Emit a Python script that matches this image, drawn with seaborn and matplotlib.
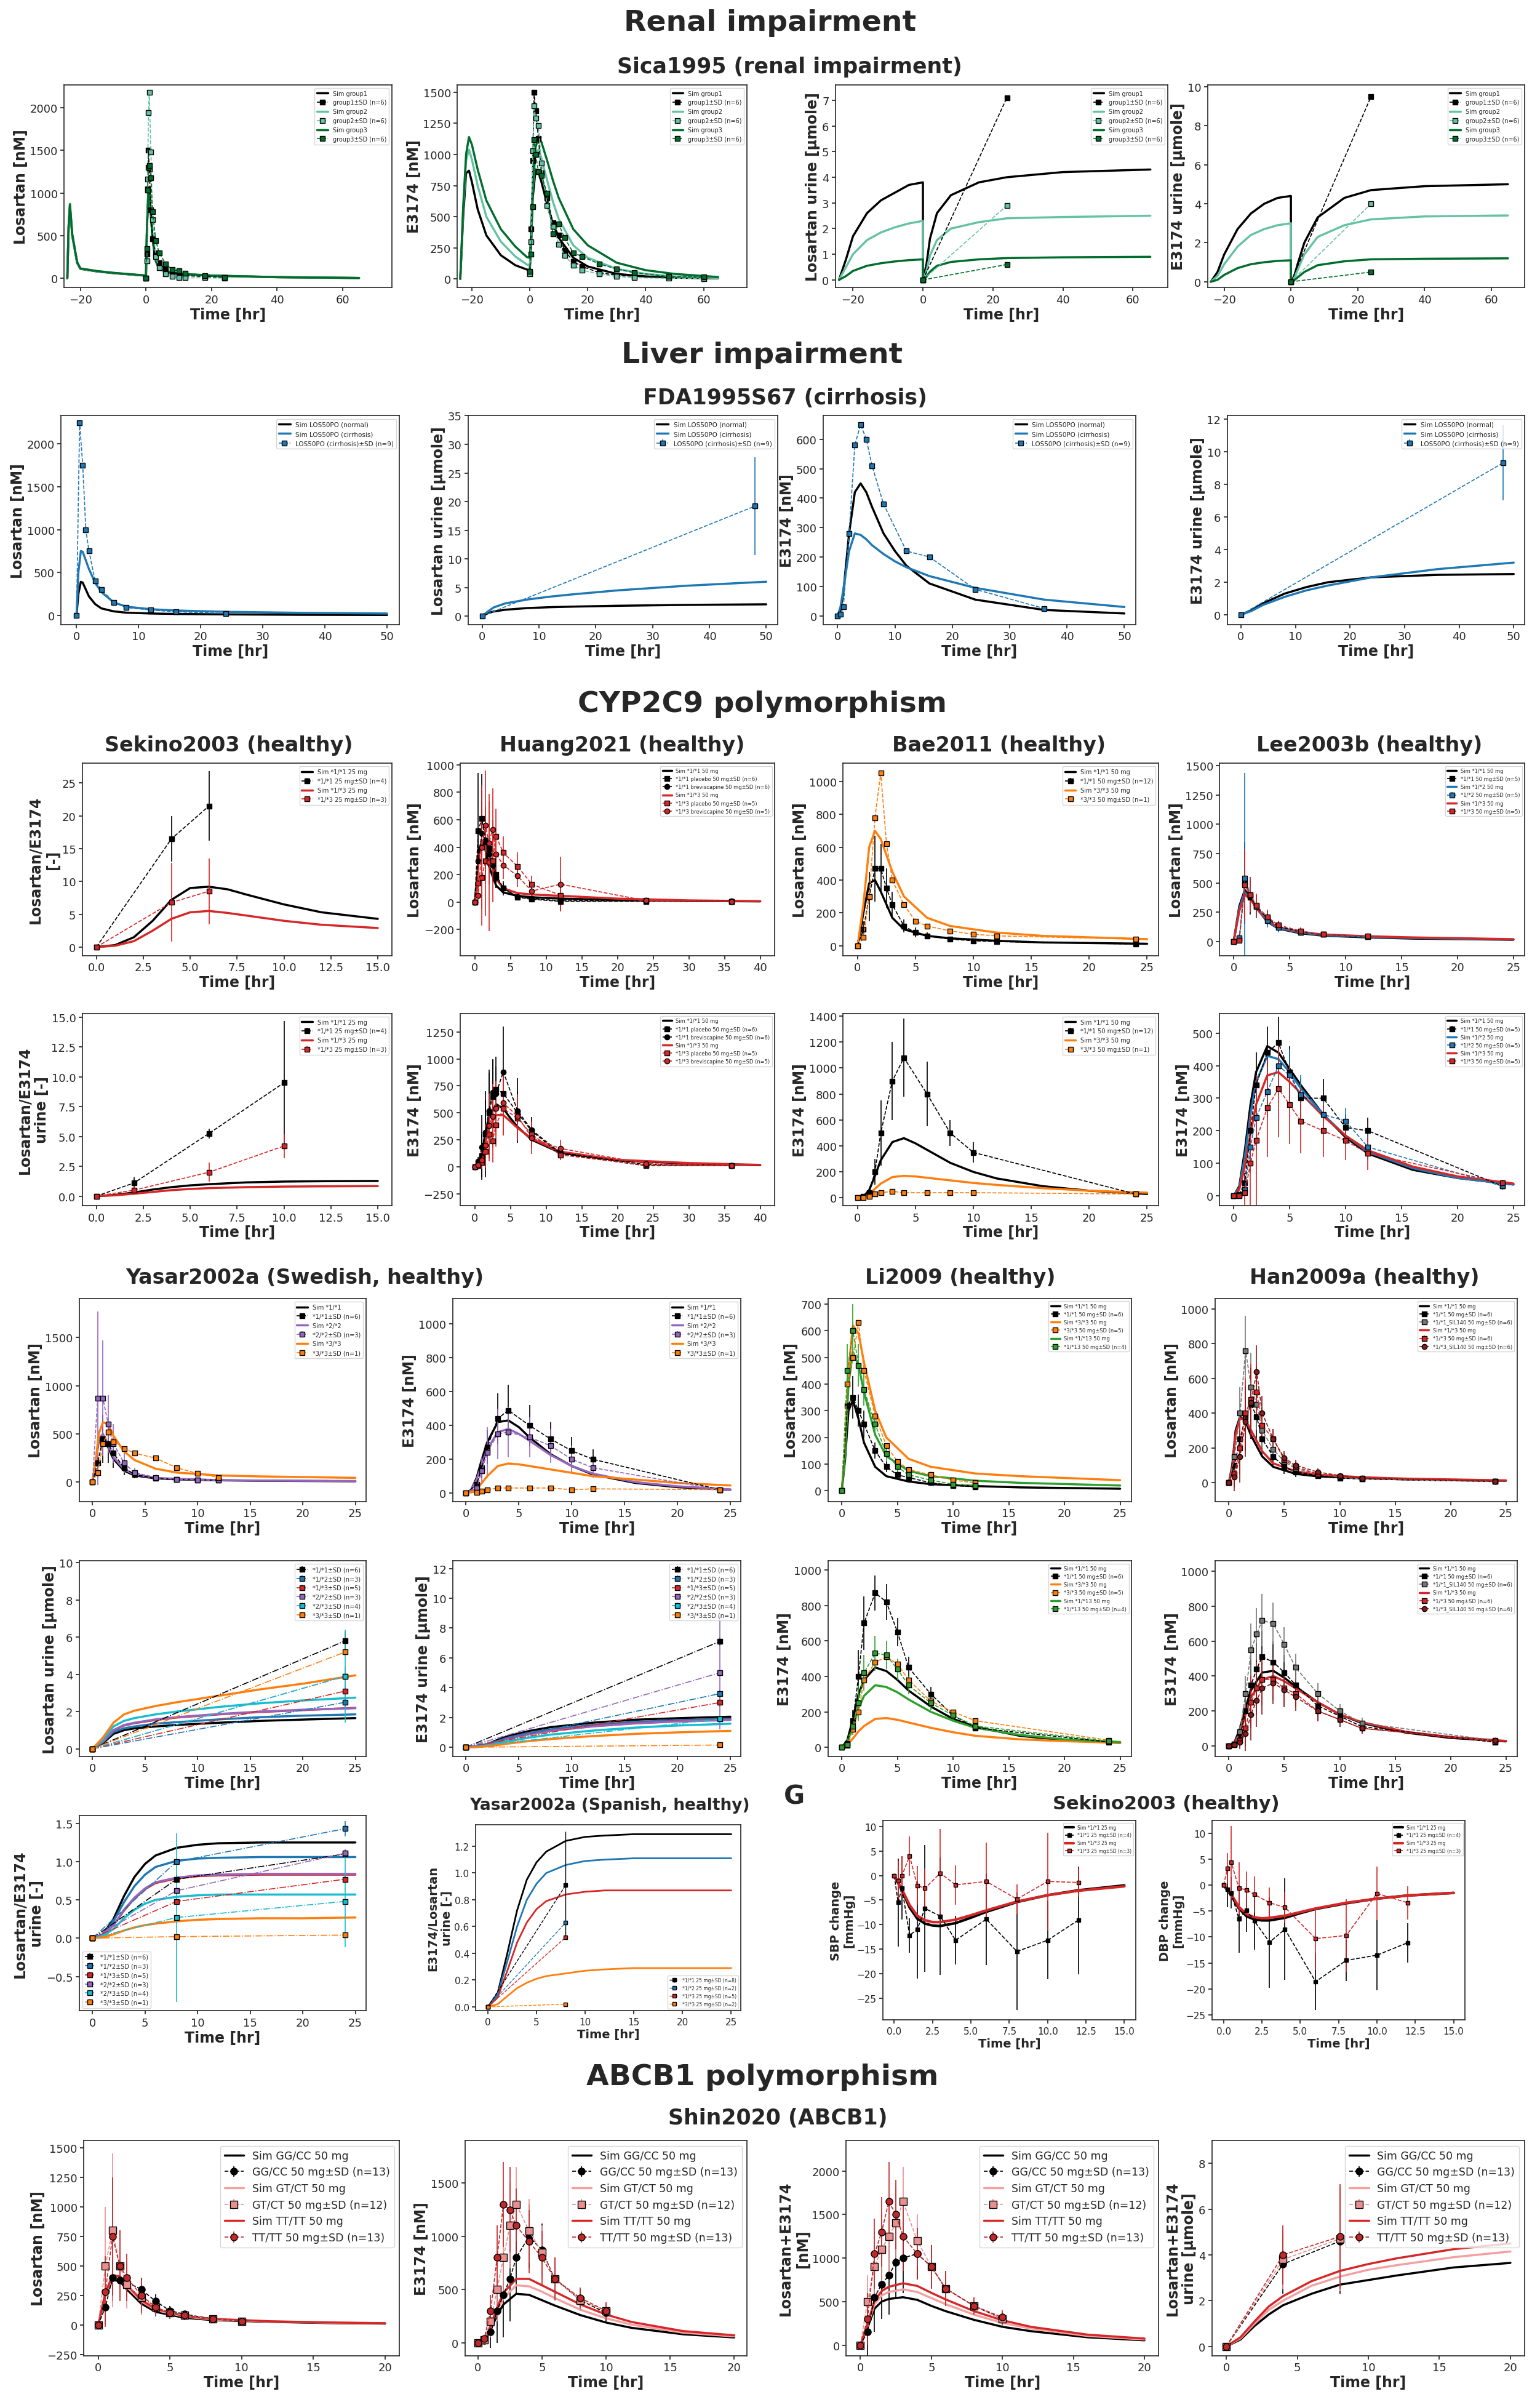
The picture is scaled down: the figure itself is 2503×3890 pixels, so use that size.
import numpy as np
import pandas as pd
import seaborn as sns
import matplotlib
matplotlib.use("Agg")
import matplotlib.pyplot as plt
from matplotlib.lines import Line2D

sns.set_theme(style="ticks")
plt.rcParams['font.family'] = ['DejaVu Sans']

# ---------------- colours ----------------
BLK = 'black'; BLU = '#1f77b4'; RED = '#d62728'; PUR = '#9467bd'; CYA = '#17becf'; ORA = '#ff7f0e'; GRN = '#2ca02c'
G2 = '#66c2a4'; G3 = '#006d2c'; LIVB = '#1f78b4'; PNK = '#f4a0a0'

# ================= DATA =================
# --- Sica1995 (renal) ---
sica_sim_t = [-24, -23.6, -23.2, -22.5, -21, -20, -15, -10, -5, 0, 0.3, 0.7, 1, 1.5, 2, 3, 4, 6, 10, 20, 40, 65]
sica_los_sim_g1 = [0, 600, 850, 500, 180, 110, 80, 60, 45, 30, 600, 950, 1000, 750, 450, 200, 110, 70, 50, 30, 12, 3]
sica_los_sim_g2 = [0, 610, 860, 510, 185, 112, 82, 62, 46, 31, 610, 960, 1010, 760, 460, 205, 112, 72, 52, 31, 13, 3]
sica_los_sim_g3 = [0, 620, 870, 520, 190, 115, 85, 64, 48, 32, 620, 970, 1020, 770, 470, 210, 115, 74, 54, 32, 13, 3]
sica_t = [0, 0.25, 0.5, 0.75, 1, 1.5, 2, 3, 4, 6, 8, 10, 12, 18, 24]
sica_los_g1 = [0, 280, 1050, 1500, 1280, 800, 460, 300, 180, 100, 70, 50, 30, 20, 10]
sica_los_g2 = [0, 200, 1160, 1940, 2180, 1480, 690, 250, 120, 50, 20, 10, 5, 5, 2]
sica_los_g3 = [0, 350, 1030, 1300, 1320, 1180, 780, 440, 300, 170, 100, 90, 60, 30, 10]
sica_E_sim_t = [-24, -23, -22, -21, -20, -18, -15, -10, -5, -1, 0, 0.5, 1, 2, 3, 4, 6, 8, 10, 15, 20, 30, 40, 50, 65]
sica_E_sim_g1 = [0, 500, 850, 870, 780, 560, 350, 190, 110, 75, 70, 300, 650, 880, 860, 780, 600, 440, 330, 170, 100, 40, 20, 10, 5]
sica_E_sim_g2 = [0, 550, 950, 1040, 960, 750, 500, 300, 180, 115, 110, 350, 720, 1000, 1040, 970, 790, 620, 480, 270, 170, 80, 40, 20, 8]
sica_E_sim_g3 = [0, 580, 1000, 1140, 1080, 880, 630, 400, 260, 175, 170, 380, 760, 1060, 1130, 1100, 950, 790, 650, 400, 270, 130, 70, 40, 15]
sica_Et = [0, 0.5, 1, 1.5, 2, 3, 4, 6, 8, 10, 12, 15, 18, 24, 30, 36, 48, 60]
sica_E_g1 = [50, 400, 950, 1500, 1350, 1130, 850, 650, 450, 350, 230, 140, 100, 50, 30, 20, 10, 5]
sica_E_g2 = [40, 300, 1030, 1390, 1290, 1230, 930, 590, 420, 280, 190, 110, 70, 40, 20, 10, 5, 3]
sica_E_g3 = [60, 200, 580, 1120, 1000, 860, 830, 690, 360, 440, 330, 210, 180, 120, 80, 50, 20, 15]
sica_u_sim_t = [-24, -22, -20, -16, -12, -8, -4, -0.01, 0, 1, 2, 4, 8, 16, 24, 40, 65]
sica_ulos_sim_g1 = [0, 0.8, 1.7, 2.6, 3.1, 3.4, 3.7, 3.8, 0, 0.6, 1.6, 2.6, 3.3, 3.8, 4.0, 4.2, 4.3]
sica_ulos_sim_g2 = [0, 0.5, 1.0, 1.55, 1.85, 2.05, 2.2, 2.3, 0, 0.35, 0.95, 1.55, 2.0, 2.25, 2.4, 2.45, 2.5]
sica_ulos_sim_g3 = [0, 0.15, 0.35, 0.55, 0.65, 0.72, 0.77, 0.8, 0, 0.12, 0.32, 0.55, 0.7, 0.8, 0.85, 0.88, 0.9]
sica_uE_sim_g1 = [0, 0.5, 1.4, 2.7, 3.5, 4.0, 4.3, 4.4, 0, 0.3, 0.9, 2.0, 3.3, 4.3, 4.7, 4.9, 5.0]
sica_uE_sim_g2 = [0, 0.3, 0.9, 1.8, 2.4, 2.7, 2.9, 3.0, 0, 0.2, 0.6, 1.4, 2.3, 2.9, 3.2, 3.35, 3.4]
sica_uE_sim_g3 = [0, 0.1, 0.35, 0.7, 0.9, 1.0, 1.07, 1.1, 0, 0.08, 0.22, 0.5, 0.85, 1.05, 1.15, 1.18, 1.2]
sica_ut = [0, 24]
sica_ulos_g1 = [0, 7.1]; sica_ulos_g2 = [0, 2.9]; sica_ulos_g3 = [0, 0.6]
sica_uE_g1 = [0, 9.5]; sica_uE_g2 = [0, 4.0]; sica_uE_g3 = [0, 0.5]

# --- FDA1995S67 (cirrhosis) ---
fda_sim_t = [0, 0.3, 0.7, 1, 1.5, 2, 3, 4, 6, 8, 12, 16, 24, 36, 50]
fda_los_norm = [0, 250, 390, 380, 300, 220, 130, 80, 45, 30, 20, 15, 10, 5, 3]
fda_los_cirr = [0, 500, 750, 740, 640, 540, 380, 270, 150, 100, 70, 55, 40, 28, 20]
fda_t = [0, 0.5, 1, 1.5, 2, 3, 4, 6, 8, 12, 16, 24]
fda_los_data = [0, 2250, 1750, 1000, 750, 400, 300, 150, 90, 60, 40, 20]
fda_u_sim_t = [0, 1, 2, 4, 8, 12, 16, 24, 36, 50]
fda_ulos_norm = [0, 0.5, 0.8, 1.1, 1.4, 1.55, 1.65, 1.8, 1.95, 2.05]
fda_ulos_cirr = [0, 0.8, 1.5, 2.2, 2.9, 3.4, 3.8, 4.5, 5.3, 6.0]
fda_ut = [0, 48]
fda_ulos_data = [0, 19.2]; fda_ulos_sd = [0, 8.5]
fda_E_sim_t = [0, 0.5, 1, 2, 3, 4, 5, 6, 8, 10, 12, 16, 24, 36, 50]
fda_E_norm = [0, 20, 80, 280, 420, 450, 420, 370, 280, 220, 170, 110, 55, 20, 8]
fda_E_cirr = [0, 30, 90, 220, 280, 275, 260, 240, 210, 185, 165, 135, 95, 55, 30]
fda_Et = [0, 0.5, 1, 2, 3, 4, 5, 6, 8, 12, 16, 24, 36]
fda_E_data = [0, 5, 30, 280, 580, 650, 600, 510, 380, 220, 200, 90, 25]
fda_uE_sim_t = [0, 2, 4, 8, 12, 16, 24, 36, 50]
fda_uE_norm = [0, 0.3, 0.7, 1.3, 1.7, 2.0, 2.3, 2.45, 2.5]
fda_uE_cirr = [0, 0.25, 0.6, 1.1, 1.5, 1.8, 2.3, 2.8, 3.2]
fda_uE_data = [0, 9.3]; fda_uE_sd = [0, 2.3]

# --- Sekino2003 ---
sek_sim_t = [0, 1, 2, 3, 4, 5, 6, 7, 8, 10, 12, 15]
sek_ratio_11 = [0, 0.3, 1.5, 4, 7.2, 9.0, 9.2, 8.8, 8.0, 6.5, 5.3, 4.3]
sek_ratio_13 = [0, 0.2, 0.9, 2.5, 4.3, 5.3, 5.5, 5.2, 4.8, 4.0, 3.4, 2.9]
sek_t = [0, 4, 6]
sek_ratio_d11 = [0, 16.5, 21.5]; sek_ratio_sd11 = [0, 3.5, 5.3]
sek_ratio_d13 = [0, 6.8, 8.5]; sek_ratio_sd13 = [0, 6, 5]
sek_u_sim_t = [0, 1, 2, 3, 4, 5, 6, 8, 10, 12, 15]
sek_uratio_11 = [0, 0.1, 0.3, 0.55, 0.75, 0.9, 1.0, 1.15, 1.22, 1.25, 1.27]
sek_uratio_13 = [0, 0.07, 0.2, 0.35, 0.5, 0.6, 0.67, 0.75, 0.8, 0.82, 0.84]
sek_ut = [0, 2, 6, 10]
sek_uratio_d11 = [0, 1.1, 5.25, 9.5]; sek_uratio_sd11 = [0, 0.5, 0.4, 5.2]
sek_uratio_d13 = [0, 0.5, 2.0, 4.2]; sek_uratio_sd13 = [0, 0.3, 0.8, 1.0]
bp_sim_t = [0, 0.5, 1, 1.5, 2, 2.5, 3, 4, 5, 6, 8, 10, 12, 15]
sbp_sim_11 = [0, -3, -6.5, -8.8, -9.8, -10.2, -10.3, -9.7, -8.6, -7.4, -5.4, -4, -3, -2]
sbp_sim_13 = [0, -2.8, -6, -8.2, -9.1, -9.5, -9.5, -9, -8.1, -7.1, -5.3, -4, -3.1, -2.2]
bp_t = [0, 0.25, 0.5, 1, 1.5, 2, 3, 4, 6, 8, 10, 12]
sbp_d11 = [0, -5.5, -2.5, -12.2, -11, -6.7, -8.3, -13.2, -8.9, -15.5, -13.2, -9.1]
sbp_sd11 = [0, 9, 6.5, 3.5, 10, 13, 12, 5, 9.4, 12, 8, 11]
sbp_d13 = [0, -1, 0, 4, -2, -2.6, 0.5, -1.9, -1.2, -4.8, -1.2, -1.4]
sbp_sd13 = [0, 4, 4, 4, 4, 4, 9, 4, 8, 3, 10, 3]
dbp_sim_11 = [0, -2, -4.5, -6, -6.6, -6.8, -6.8, -6.3, -5.4, -4.6, -3.5, -2.6, -2, -1.5]
dbp_sim_13 = [0, -1.8, -4.2, -5.6, -6.2, -6.4, -6.3, -5.9, -5.2, -4.5, -3.4, -2.6, -2, -1.5]
dbp_d11 = [0, -0.8, -1.5, -6.5, -4.8, -6.9, -11, -8.5, -18.6, -14.5, -13.5, -11.1]
dbp_sd11 = [0, 3.5, 3, 6.5, 4.2, 5.5, 8.8, 9.8, 5.5, 4, 6.8, 3.8]
dbp_d13 = [0, 3.2, 4.4, -0.6, -0.9, -1.8, -3.4, -4.3, -10.3, -9.7, -1.6, -3.4]
dbp_sd13 = [0, 3, 7, 5, 3.5, 3.5, 3, 3, 6, 7, 5.2, 3.2]

# --- Huang2021 ---
hu_sim_t = [0, 0.3, 0.6, 1, 1.5, 2, 3, 4, 6, 8, 12, 20, 30, 40]
hu_los_11 = [0, 150, 380, 440, 380, 260, 120, 70, 45, 35, 25, 15, 8, 5]
hu_los_13 = [0, 120, 330, 430, 420, 330, 170, 100, 65, 55, 45, 25, 12, 6]
hu_t = [0, 0.5, 1, 1.5, 2, 2.5, 3, 4, 6, 8, 12, 24, 36]
hu_los_11p = [0, 520, 610, 440, 390, 300, 200, 100, 35, 20, 5, 5, 5]
hu_los_11p_sd = [0, 420, 320, 150, 150, 150, 100, 50, 20, 15, 10, 5, 5]
hu_los_11b = [0, 300, 500, 450, 350, 270, 180, 100, 40, 25, 10, 8, 6]
hu_los_11b_sd = [0, 200, 250, 200, 150, 100, 80, 40, 20, 15, 10, 5, 5]
hu_los_13p = [0, 140, 180, 300, 290, 300, 480, 360, 260, 130, 50, 10, 5]
hu_los_13p_sd = [0, 100, 350, 400, 500, 300, 200, 120, 100, 60, 120, 10, 5]
hu_los_13b = [0, 50, 400, 560, 430, 530, 350, 270, 190, 80, 130, 10, 5]
hu_los_13b_sd = [0, 40, 450, 400, 300, 300, 150, 100, 80, 50, 200, 10, 5]
hu_E_sim_t = [0, 0.5, 1, 1.5, 2, 3, 4, 5, 6, 8, 12, 20, 30, 40]
hu_E_11 = [0, 30, 130, 300, 450, 580, 540, 450, 370, 250, 130, 60, 30, 15]
hu_E_13 = [0, 20, 100, 230, 360, 480, 480, 420, 360, 260, 140, 65, 35, 18]
hu_E_11p = [0, 20, 100, 300, 500, 650, 720, 680, 500, 330, 120, 10, 10]
hu_E_11p_sd = [0, 30, 200, 400, 400, 350, 300, 200, 200, 100, 40, 10, 10]
hu_E_11b = [0, 50, 180, 320, 520, 690, 680, 880, 520, 340, 130, 20, 10]
hu_E_11b_sd = [0, 40, 300, 300, 350, 300, 250, 420, 300, 120, 50, 10, 10]
hu_E_13p = [0, 10, 40, 140, 300, 240, 390, 540, 450, 300, 110, 15, 10]
hu_E_13p_sd = [0, 10, 60, 150, 250, 200, 200, 250, 200, 120, 50, 10, 10]
hu_E_13b = [0, 15, 60, 200, 380, 470, 540, 590, 470, 270, 170, 30, 10]
hu_E_13b_sd = [0, 15, 80, 200, 300, 300, 250, 300, 200, 150, 80, 10, 10]

# --- Bae2011 ---
bae_sim_t = [0, 0.5, 1, 1.5, 2, 3, 4, 6, 8, 12, 16, 25]
bae_los_11 = [0, 200, 380, 400, 330, 170, 100, 60, 45, 30, 20, 12]
bae_los_33 = [0, 250, 600, 700, 650, 450, 300, 170, 120, 80, 60, 40]
bae_t = [0, 0.5, 1, 1.5, 2, 2.5, 3, 4, 5, 6, 8, 10, 12, 24]
bae_los_d11 = [0, 100, 300, 470, 470, 350, 250, 120, 80, 60, 40, 30, 25, 10]
bae_los_d11_sd = [0, 50, 150, 200, 150, 120, 80, 40, 30, 20, 15, 10, 10, 5]
bae_los_d33 = [0, 50, 300, 780, 1050, 620, 400, 250, 150, 120, 90, 70, 60, 40]
bae_E_sim_t = [0, 0.5, 1, 1.5, 2, 3, 4, 5, 6, 8, 10, 12, 16, 20, 25]
bae_E_11 = [0, 10, 60, 170, 290, 430, 460, 420, 370, 270, 200, 150, 90, 55, 30]
bae_E_33 = [0, 5, 25, 70, 110, 160, 170, 165, 155, 135, 115, 100, 75, 55, 40]
bae_Et = [0, 0.5, 1, 1.5, 2, 3, 4, 6, 8, 10, 24]
bae_E_d11 = [0, 10, 40, 200, 500, 900, 1080, 800, 500, 350, 30]
bae_E_d11_sd = [0, 5, 20, 100, 250, 300, 300, 250, 100, 80, 10]
bae_E_d33 = [0, 0, 10, 30, 40, 50, 40, 40, 40, 40, 30]

# --- Lee2003b ---
lee_sim_t = [0, 0.5, 1, 1.5, 2, 3, 4, 6, 8, 12, 16, 25]
lee_los_11 = [0, 300, 440, 380, 290, 170, 110, 70, 50, 35, 25, 15]
lee_los_12 = [0, 280, 420, 370, 290, 175, 115, 75, 55, 40, 30, 18]
lee_los_13 = [0, 260, 400, 360, 290, 180, 120, 80, 60, 45, 35, 20]
lee_t = [0, 0.5, 1, 1.5, 2, 3, 4, 6, 8, 12]
lee_los_d11 = [0, 20, 500, 380, 300, 200, 130, 80, 60, 40]
lee_los_d11_sd = [0, 20, 350, 150, 100, 60, 40, 30, 20, 15]
lee_los_d12 = [0, 30, 540, 400, 300, 180, 120, 80, 60, 40]
lee_los_d12_sd = [0, 30, 900, 150, 100, 60, 40, 30, 20, 15]
lee_los_d13 = [0, 10, 480, 400, 310, 210, 140, 90, 60, 45]
lee_los_d13_sd = [0, 10, 300, 150, 100, 60, 40, 30, 20, 15]
lee_E_sim_t = [0, 0.5, 1, 1.5, 2, 3, 4, 5, 6, 8, 10, 12, 16, 20, 25]
lee_E_11 = [0, 30, 140, 280, 380, 460, 440, 390, 340, 250, 180, 130, 80, 55, 35]
lee_E_12 = [0, 25, 120, 250, 350, 430, 420, 380, 330, 250, 185, 135, 85, 55, 35]
lee_E_13 = [0, 20, 90, 190, 280, 370, 380, 350, 315, 245, 185, 140, 90, 60, 38]
lee_Et = [0, 0.5, 1, 1.5, 2, 3, 4, 5, 6, 8, 10, 12, 24]
lee_E_d11 = [0, 5, 40, 200, 340, 440, 470, 380, 300, 300, 210, 200, 30]
lee_E_d11_sd = [0, 5, 30, 80, 100, 80, 80, 80, 60, 60, 40, 40, 10]
lee_E_d12 = [0, 5, 20, 150, 240, 320, 400, 370, 310, 250, 230, 150, 30]
lee_E_d12_sd = [0, 5, 20, 80, 100, 80, 80, 80, 60, 60, 40, 40, 10]
lee_E_d13 = [0, 0, 10, 100, 170, 270, 330, 280, 230, 200, 170, 130, 40]
lee_E_d13_sd = [0, 0, 50, 150, 200, 150, 150, 120, 100, 80, 60, 50, 10]

# --- Yasar2002a (Swedish) ---
ya_sim_t = [0, 0.3, 0.6, 1, 1.5, 2, 3, 4, 6, 8, 12, 16, 25]
ya_los_11 = [0, 200, 430, 480, 360, 240, 120, 70, 40, 30, 20, 15, 10]
ya_los_22 = [0, 210, 450, 500, 390, 260, 135, 80, 45, 35, 22, 17, 12]
ya_los_33 = [0, 200, 500, 620, 600, 480, 320, 230, 140, 100, 70, 60, 45]
ya_t = [0, 0.5, 1, 1.5, 2, 3, 4, 6, 8, 10, 12]
ya_los_d11 = [0, 200, 450, 400, 300, 150, 80, 40, 30, 25, 20]
ya_los_d11_sd = [0, 150, 250, 200, 150, 80, 40, 20, 15, 10, 10]
ya_los_d22 = [0, 870, 870, 600, 400, 200, 100, 50, 30, 25, 20]
ya_los_d22_sd = [0, 900, 600, 300, 200, 100, 50, 20, 15, 10, 10]
ya_los_d33 = [0, 100, 400, 520, 420, 350, 300, 250, 150, 90, 50]
ya_E_sim_t = [0, 0.5, 1, 1.5, 2, 3, 4, 5, 6, 8, 10, 12, 16, 20, 25]
ya_E_11 = [0, 20, 90, 200, 300, 420, 430, 390, 330, 230, 160, 110, 60, 35, 20]
ya_E_22 = [0, 18, 80, 170, 260, 360, 380, 350, 310, 225, 160, 115, 65, 40, 22]
ya_E_33 = [0, 5, 25, 60, 100, 160, 175, 170, 160, 140, 120, 100, 80, 60, 45]
ya_Et = [0, 1, 1.5, 2, 3, 4, 6, 8, 10, 12, 24]
ya_E_d11 = [0, 50, 150, 270, 440, 490, 400, 320, 250, 200, 20]
ya_E_d11_sd = [0, 30, 60, 100, 150, 150, 120, 100, 80, 60, 10]
ya_E_d22 = [0, 30, 130, 240, 350, 360, 330, 280, 200, 150, 20]
ya_E_d22_sd = [0, 30, 80, 150, 150, 150, 120, 100, 80, 60, 10]
ya_E_d33 = [0, 5, 10, 20, 30, 30, 30, 30, 20, 25, 20]
ya_u_sim_t = [0, 1, 2, 3, 4, 6, 8, 12, 16, 20, 25]
ya_ulos_11 = [0, 0.3, 0.8, 1.0, 1.1, 1.2, 1.28, 1.4, 1.5, 1.57, 1.65]
ya_ulos_12 = [0, 0.35, 0.9, 1.1, 1.2, 1.35, 1.43, 1.58, 1.7, 1.78, 1.85]
ya_ulos_13 = [0, 0.4, 1.0, 1.25, 1.38, 1.55, 1.68, 1.85, 1.98, 2.08, 2.2]
ya_ulos_22 = [0, 0.4, 1.0, 1.28, 1.4, 1.58, 1.7, 1.87, 2.0, 2.1, 2.18]
ya_ulos_23 = [0, 0.5, 1.2, 1.5, 1.65, 1.85, 2.0, 2.25, 2.45, 2.6, 2.75]
ya_ulos_33 = [0, 0.6, 1.4, 1.85, 2.05, 2.3, 2.5, 2.85, 3.2, 3.5, 3.95]
ya_ut = [0, 24]
ya_ulos_d = {'11': [0, 5.8], '12': [0, 2.5], '13': [0, 3.1], '22': [0, 3.9], '23': [0, 3.9], '33': [0, 5.2]}
ya_ulos_sd = {'11': [0, 0.5], '12': [0, 0.3], '13': [0, 0.4], '22': [0, 0.5], '23': [0, 2.5], '33': [0, 0]}
ya_uE_11 = [0, 0.05, 0.2, 0.5, 0.75, 1.1, 1.35, 1.65, 1.85, 1.95, 2.05]
ya_uE_12 = [0, 0.04, 0.17, 0.42, 0.65, 0.97, 1.2, 1.5, 1.7, 1.82, 1.92]
ya_uE_13 = [0, 0.04, 0.15, 0.38, 0.6, 0.9, 1.12, 1.42, 1.62, 1.75, 1.85]
ya_uE_22 = [0, 0.04, 0.15, 0.37, 0.58, 0.88, 1.1, 1.4, 1.6, 1.73, 1.83]
ya_uE_23 = [0, 0.03, 0.1, 0.25, 0.4, 0.65, 0.85, 1.12, 1.32, 1.46, 1.58]
ya_uE_33 = [0, 0.02, 0.07, 0.15, 0.25, 0.42, 0.55, 0.75, 0.9, 1.0, 1.1]
ya_uE_d = {'11': [0, 7.1], '12': [0, 3.6], '13': [0, 3.0], '22': [0, 5.0], '23': [0, 1.9], '33': [0, 0.15]}
ya_uE_sd = {'11': [0, 0.3], '12': [0, 0.3], '13': [0, 0.3], '22': [0, 3.8], '23': [0, 0.3], '33': [0, 0]}
ya_r_sim_t = [0, 1, 2, 3, 4, 5, 6, 8, 10, 12, 16, 20, 25]
ya_r_11 = [0, 0.05, 0.25, 0.55, 0.8, 0.97, 1.08, 1.18, 1.22, 1.24, 1.25, 1.25, 1.25]
ya_r_12 = [0, 0.05, 0.22, 0.47, 0.68, 0.83, 0.93, 1.01, 1.04, 1.05, 1.06, 1.06, 1.06]
ya_r_13 = [0, 0.04, 0.17, 0.36, 0.52, 0.64, 0.72, 0.78, 0.81, 0.82, 0.83, 0.83, 0.83]
ya_r_22 = [0, 0.04, 0.17, 0.37, 0.53, 0.65, 0.73, 0.79, 0.82, 0.83, 0.84, 0.84, 0.84]
ya_r_23 = [0, 0.03, 0.12, 0.26, 0.37, 0.45, 0.5, 0.54, 0.56, 0.57, 0.57, 0.57, 0.57]
ya_r_33 = [0, 0.01, 0.05, 0.1, 0.14, 0.17, 0.19, 0.22, 0.24, 0.25, 0.26, 0.26, 0.27]
ya_rt = [0, 8, 24]
ya_r_d = {'11': [0, 0.77, 1.1], '12': [0, 1.0, 1.43], '13': [0, 0.48, 0.77], '22': [0, 0.62, 1.11], '23': [0, 0.27, 0.48], '33': [0, 0.02, 0.04]}
ya_r_sd = {'11': [0, 0.05, 0.05], '12': [0, 0.05, 0.1], '13': [0, 0.05, 0.05], '22': [0, 0.05, 0.05], '23': [0, 1.1, 0.6], '33': [0, 0, 0]}
# --- Yasar2002a (Spanish) ---
ys_sim_t = [0, 1, 2, 3, 4, 5, 6, 8, 10, 12, 15, 20, 25]
ys_11 = [0, 0.1, 0.4, 0.72, 0.95, 1.08, 1.16, 1.24, 1.27, 1.28, 1.29, 1.29, 1.29]
ys_12 = [0, 0.09, 0.34, 0.6, 0.8, 0.92, 1.0, 1.06, 1.09, 1.1, 1.11, 1.11, 1.11]
ys_13 = [0, 0.07, 0.27, 0.48, 0.63, 0.73, 0.79, 0.84, 0.86, 0.87, 0.87, 0.87, 0.87]
ys_33 = [0, 0.02, 0.08, 0.14, 0.18, 0.21, 0.23, 0.25, 0.27, 0.28, 0.29, 0.29, 0.29]
ys_t = [0, 8]
ys_d11 = [0, 0.91]; ys_sd11 = [0, 0.4]
ys_d12 = [0, 0.63]; ys_d13 = [0, 0.52]; ys_d33 = [0, 0.02]

# --- Li2009 ---
li_sim_t = [0, 0.3, 0.6, 1, 1.5, 2, 3, 4, 6, 8, 12, 16, 25]
li_los_11 = [0, 120, 300, 340, 270, 180, 90, 55, 35, 25, 18, 13, 8]
li_los_33 = [0, 150, 450, 620, 590, 480, 300, 200, 120, 90, 65, 55, 40]
li_los_113 = [0, 140, 400, 520, 470, 370, 210, 130, 75, 55, 38, 30, 20]
li_t = [0, 0.5, 1, 1.5, 2, 3, 4, 5, 6, 8, 10, 12]
li_los_d11 = [0, 320, 350, 300, 250, 150, 90, 60, 50, 30, 20, 15]
li_los_d11_sd = [0, 80, 80, 60, 50, 30, 20, 15, 10, 8, 5, 5]
li_los_d33 = [0, 400, 500, 630, 450, 280, 170, 110, 80, 60, 40, 30]
li_los_d113 = [0, 450, 600, 470, 380, 250, 140, 90, 60, 40, 25, 20]
li_los_d113_sd = [0, 100, 100, 80, 60, 40, 30, 20, 15, 10, 5, 5]
li_E_sim_t = [0, 0.5, 1, 1.5, 2, 3, 4, 5, 6, 8, 10, 12, 16, 20, 25]
li_E_11 = [0, 40, 160, 300, 380, 450, 430, 380, 320, 230, 160, 115, 65, 40, 25]
li_E_33 = [0, 15, 50, 90, 120, 160, 165, 155, 140, 110, 85, 65, 45, 35, 25]
li_E_113 = [0, 30, 120, 220, 290, 350, 340, 310, 270, 200, 150, 110, 70, 45, 30]
li_Et = [0, 0.5, 1, 1.5, 2, 3, 4, 5, 6, 8, 10, 12, 24]
li_E_d11 = [0, 20, 150, 400, 700, 870, 820, 650, 450, 300, 180, 110, 30]
li_E_d11_sd = [0, 10, 60, 150, 150, 100, 100, 80, 60, 40, 30, 20, 10]
li_E_d33 = [0, 10, 100, 200, 380, 480, 510, 470, 380, 260, 200, 150, 40]
li_E_d113 = [0, 15, 120, 250, 420, 530, 520, 440, 350, 250, 180, 120, 35]
li_E_d113_sd = [0, 10, 50, 100, 100, 100, 80, 60, 50, 40, 30, 20, 10]

# --- Han2009a ---
han_sim_t = [0, 0.3, 0.6, 1, 1.5, 2, 3, 4, 6, 8, 12, 16, 25]
han_los_11 = [0, 100, 300, 380, 350, 270, 150, 90, 50, 35, 25, 18, 10]
han_los_13 = [0, 90, 280, 370, 360, 300, 180, 110, 65, 45, 30, 22, 12]
han_t = [0, 0.5, 1, 1.5, 2, 2.5, 3, 4, 5, 6, 8, 10, 12, 24]
han_los_d11 = [0, 100, 250, 380, 450, 380, 250, 150, 90, 60, 40, 25, 20, 5]
han_los_d11s = [0, 150, 400, 760, 550, 450, 300, 190, 120, 80, 50, 30, 20, 5]
han_los_d13 = [0, 50, 200, 400, 480, 520, 330, 250, 130, 90, 50, 35, 25, 8]
han_los_d13s = [0, 30, 150, 350, 460, 640, 400, 250, 140, 100, 60, 40, 25, 8]
han_los_sd = [0, 80, 150, 200, 200, 150, 100, 60, 40, 30, 20, 10, 10, 5]
han_E_sim_t = [0, 0.5, 1, 1.5, 2, 3, 4, 5, 6, 8, 10, 12, 16, 20, 25]
han_E_11 = [0, 20, 100, 220, 320, 420, 430, 390, 340, 250, 180, 130, 75, 45, 25]
han_E_13 = [0, 15, 80, 180, 280, 380, 400, 370, 330, 250, 180, 135, 80, 50, 28]
han_E_d11 = [0, 10, 50, 200, 350, 440, 510, 480, 420, 350, 230, 170, 110, 20]
han_E_d11s = [0, 10, 80, 300, 550, 640, 720, 700, 580, 450, 300, 200, 130, 30]
han_E_d13 = [0, 5, 30, 100, 250, 330, 380, 380, 330, 300, 200, 150, 100, 25]
han_E_d13s = [0, 5, 20, 70, 180, 260, 330, 360, 320, 280, 200, 150, 100, 30]
han_E_sd = [0, 10, 40, 100, 150, 150, 150, 120, 100, 80, 60, 40, 30, 10]

# --- Shin2020 ---
shin_sim_t = [0, 0.5, 1, 1.5, 2, 3, 4, 6, 8, 12, 16, 20]
shin_los_gg = [0, 250, 380, 370, 300, 180, 110, 60, 40, 25, 15, 10]
shin_los_gt = [0, 260, 400, 390, 320, 200, 125, 70, 45, 28, 18, 12]
shin_los_tt = [0, 270, 420, 410, 340, 210, 135, 75, 50, 30, 20, 14]
shin_t = [0, 0.5, 1, 1.5, 2, 3, 4, 5, 6, 8, 10]
shin_los_dgg = [0, 150, 400, 380, 360, 300, 200, 120, 90, 50, 30]
shin_los_dgg_sd = [0, 150, 200, 150, 120, 100, 60, 40, 30, 20, 10]
shin_los_dgt = [0, 500, 800, 500, 340, 230, 150, 100, 80, 50, 30]
shin_los_dgt_sd = [0, 500, 650, 300, 200, 150, 80, 50, 40, 20, 10]
shin_los_dtt = [0, 280, 750, 500, 400, 250, 150, 100, 80, 50, 30]
shin_los_dtt_sd = [0, 300, 500, 300, 200, 150, 80, 50, 40, 20, 10]
shin_E_sim_t = [0, 0.5, 1, 1.5, 2, 3, 4, 5, 6, 8, 10, 12, 16, 20]
shin_E_gg = [0, 20, 120, 260, 360, 460, 450, 400, 350, 260, 190, 140, 80, 50]
shin_E_gt = [0, 25, 140, 300, 420, 540, 530, 480, 420, 310, 230, 170, 95, 60]
shin_E_tt = [0, 30, 160, 330, 470, 600, 600, 540, 480, 360, 265, 195, 110, 70]
shin_Et = [0, 0.5, 1, 1.5, 2, 2.5, 3, 4, 5, 6, 8, 10]
shin_E_dgg = [0, 20, 100, 300, 450, 600, 800, 1000, 870, 600, 400, 280]
shin_E_dgt = [0, 30, 200, 500, 800, 1100, 1300, 1050, 850, 600, 400, 300]
shin_E_dtt = [0, 40, 300, 800, 1300, 1250, 1100, 950, 800, 600, 420, 300]
shin_E_sd = [0, 30, 150, 300, 400, 400, 350, 300, 250, 200, 100, 80]
shin_S_gg = [0, 200, 420, 500, 530, 550, 520, 450, 390, 290, 210, 160, 90, 55]
shin_S_gt = [0, 220, 470, 570, 610, 640, 610, 540, 470, 350, 255, 190, 105, 65]
shin_S_tt = [0, 240, 510, 620, 670, 710, 680, 600, 525, 390, 285, 210, 120, 75]
shin_S_dgg = [0, 150, 550, 700, 800, 950, 1000, 1050, 900, 650, 450, 300]
shin_S_dgt = [0, 500, 900, 1100, 1250, 1400, 1650, 1200, 900, 650, 450, 300]
shin_S_dtt = [0, 300, 1050, 1300, 1650, 1500, 1250, 1050, 900, 650, 450, 320]
shin_S_sd = [0, 300, 400, 400, 450, 400, 400, 300, 250, 200, 100, 80]
shin_u_sim_t = [0, 1, 2, 3, 4, 6, 8, 10, 12, 16, 20]
shin_u_gg = [0, 0.3, 0.9, 1.4, 1.8, 2.3, 2.7, 2.9, 3.1, 3.45, 3.65]
shin_u_gt = [0, 0.35, 1.0, 1.6, 2.0, 2.65, 3.05, 3.35, 3.55, 3.9, 4.15]
shin_u_tt = [0, 0.4, 1.1, 1.75, 2.2, 2.85, 3.3, 3.6, 3.85, 4.25, 4.5]
shin_ut = [0, 4, 8]
shin_u_dgg = [0, 3.6, 4.6]; shin_u_dgt = [0, 3.8, 4.7]; shin_u_dtt = [0, 4.0, 4.8]
shin_u_sd = [0, 1.3, 2.3]

# ================= FIGURE =================
W, H = 2503, 3891
fig = plt.figure(figsize=(W / 100, H / 100), dpi=100)
S = 2.478

def AX(l, t, r, b):
    return fig.add_axes([l * S / W, 1 - b * S / H, (r - l) * S / W, (b - t) * S / H])

def sim(label, color, t, y, lw=2.5):
    return ('sim', label, color, t, y, lw)

def dat(label, color, marker, t, y, sd=None, ls='--', ec='black'):
    return ('dat', label, color, marker, t, y, sd, ls, ec)

def panel(box, entries, ylabel, xlim=None, ylim=None, xticks=None, yticks=None,
          loc='upper right', lfs=7, xlabel='Time [hr]', lab_fs=17, tick_fs=13, ms=6, legend=True,
          bbox=None):
    ax = AX(*box)
    handles, labels = [], []
    for e in entries:
        if e[0] == 'sim':
            _, lab, c, t, y, lw = e
            df = pd.DataFrame({'t': t, 'y': y})
            sns.lineplot(data=df, x='t', y='y', ax=ax, color=c, lw=lw, sort=False, estimator=None)
            handles.append(Line2D([], [], color=c, lw=lw)); labels.append(lab)
        else:
            _, lab, c, m, t, y, sd, ls, ec = e
            h = ax.errorbar(t, y, yerr=sd, color=c, marker=m, mfc=c, mec=ec, ls=ls, lw=1.2,
                            ms=ms, elinewidth=1.2, capsize=0)
            handles.append(h); labels.append(lab)
    ax.set_xlabel(xlabel, fontsize=lab_fs, fontweight='bold', labelpad=2)
    ax.set_ylabel(ylabel, fontsize=lab_fs, fontweight='bold', labelpad=2)
    if xlim: ax.set_xlim(*xlim)
    if ylim: ax.set_ylim(*ylim)
    if xticks is not None: ax.set_xticks(xticks)
    if yticks is not None: ax.set_yticks(yticks)
    ax.tick_params(labelsize=tick_fs, length=4)
    for sp in ax.spines.values():
        sp.set_linewidth(1.2)
    if legend:
        kw = dict(fontsize=lfs, loc=loc, frameon=True, handlelength=1.8, borderpad=0.4, labelspacing=0.5)
        if bbox is not None: kw['bbox_to_anchor'] = bbox
        ax.legend(handles, labels, **kw)
    return ax

def ftxt(x, y, s, size, weight='bold'):
    fig.text(x * S / W, 1 - y * S / H, s, ha='center', va='center', fontsize=size, fontweight=weight)

# ---------- Section titles ----------
ftxt(505, 15, 'Renal impairment', 34)
ftxt(518, 44, 'Sica1995 (renal impairment)', 25)
ftxt(500, 233, 'Liver impairment', 34)
ftxt(515, 261, 'FDA1995S67 (cirrhosis)', 25)
ftxt(500, 462, 'CYP2C9 polymorphism', 34)
ftxt(150, 489, 'Sekino2003 (healthy)', 24)
ftxt(408, 489, 'Huang2021 (healthy)', 24)
ftxt(655, 489, 'Bae2011 (healthy)', 24)
ftxt(898, 489, 'Lee2003b (healthy)', 24)
ftxt(200, 838, 'Yasar2002a (Swedish, healthy)', 24)
ftxt(630, 838, 'Li2009 (healthy)', 24)
ftxt(895, 838, 'Han2009a (healthy)', 24)
ftxt(400, 1184, 'Yasar2002a (Spanish, healthy)', 19)
ftxt(521, 1178, 'G', 30)
ftxt(765, 1183, 'Sekino2003 (healthy)', 22)
ftxt(500, 1362, 'ABCB1 polymorphism', 34)
ftxt(510, 1389, 'Shin2020 (ABCB1)', 25)

# ---------- Row 1: Sica1995 ----------
R1 = (56, 189)
sq = 's'
def sica_entries(st, s1, s2, s3, dt, d1, d2, d3):
    return [sim('Sim group1', BLK, st, s1), dat('group1±SD (n=6)', BLK, sq, dt, d1),
            sim('Sim group2', G2, st, s2), dat('group2±SD (n=6)', G2, sq, dt, d2),
            sim('Sim group3', G3, st, s3), dat('group3±SD (n=6)', G3, sq, dt, d3)]
panel((42, R1[0], 257, R1[1]), sica_entries(sica_sim_t, sica_los_sim_g1, sica_los_sim_g2, sica_los_sim_g3,
      sica_t, sica_los_g1, sica_los_g2, sica_los_g3), 'Losartan [nM]', xlim=(-25, 75), ylim=(-110, 2270),
      xticks=[-20, 0, 20, 40, 60])
panel((300, R1[0], 490, R1[1]), sica_entries(sica_E_sim_t, sica_E_sim_g1, sica_E_sim_g2, sica_E_sim_g3,
      sica_Et, sica_E_g1, sica_E_g2, sica_E_g3), 'E3174 [nM]', xlim=(-25, 75), ylim=(-70, 1560),
      xticks=[-20, 0, 20, 40, 60], yticks=[0, 250, 500, 750, 1000, 1250, 1500])
panel((548, R1[0], 766, R1[1]), sica_entries(sica_u_sim_t, sica_ulos_sim_g1, sica_ulos_sim_g2, sica_ulos_sim_g3,
      sica_ut, sica_ulos_g1, sica_ulos_g2, sica_ulos_g3), 'Losartan urine [µmole]', xlim=(-25, 70), ylim=(-0.3, 7.6),
      xticks=[-20, 0, 20, 40, 60])
panel((792, R1[0], 1000, R1[1]), sica_entries(sica_u_sim_t, sica_uE_sim_g1, sica_uE_sim_g2, sica_uE_sim_g3,
      sica_ut, sica_uE_g1, sica_uE_g2, sica_uE_g3), 'E3174 urine [µmole]', xlim=(-25, 70), ylim=(-0.3, 10.1),
      xticks=[-20, 0, 20, 40, 60])

# ---------- Row 2: FDA ----------
R2 = (273, 410)
def fda_entries(st, sn, sc, dt, dd, sd=None):
    return [sim('Sim LOS50PO (normal)', BLK, st, sn), sim('Sim LOS50PO (cirrhosis)', LIVB, st, sc),
            dat('LOS50PO (cirrhosis)±SD (n=9)', LIVB, sq, dt, dd, sd)]
panel((40, R2[0], 262, R2[1]), fda_entries(fda_sim_t, fda_los_norm, fda_los_cirr, fda_t, fda_los_data),
      'Losartan [nM]', xlim=(-2.5, 52), ylim=(-110, 2330), lfs=7.5)
panel((307, R2[0], 510, R2[1]), fda_entries(fda_u_sim_t, fda_ulos_norm, fda_ulos_cirr, fda_ut, fda_ulos_data, fda_ulos_sd),
      'Losartan urine [µmole]', xlim=(-2.5, 52), ylim=(-1.5, 35), lfs=7.5)
panel((540, R2[0], 745, R2[1]), fda_entries(fda_E_sim_t, fda_E_norm, fda_E_cirr, fda_Et, fda_E_data),
      'E3174 [nM]', xlim=(-2.5, 52), ylim=(-30, 680), lfs=7.5)
panel((805, R2[0], 1000, R2[1]), fda_entries(fda_uE_sim_t, fda_uE_norm, fda_uE_cirr, fda_ut, fda_uE_data, fda_uE_sd),
      'E3174 urine [µmole]', xlim=(-2.5, 52), ylim=(-0.6, 12.2), lfs=7.5)

# ---------- Rows 3/4 ----------
R3 = (501, 627); R4 = (665, 791)
X1 = (54, 257); X2 = (302, 508); X3 = (553, 760); X4 = (800, 1000)
panel((X1[0], R3[0], X1[1], R3[1]),
      [sim('Sim *1/*1 25 mg', BLK, sek_sim_t, sek_ratio_11), dat('*1/*1 25 mg±SD (n=4)', BLK, sq, sek_t, sek_ratio_d11, sek_ratio_sd11),
       sim('Sim *1/*3 25 mg', RED, sek_sim_t, sek_ratio_13), dat('*1/*3 25 mg±SD (n=3)', RED, sq, sek_t, sek_ratio_d13, sek_ratio_sd13)],
      'Losartan/E3174\n[-]', xlim=(-0.75, 15.75), ylim=(-1.3, 28), xticks=[0, 2.5, 5, 7.5, 10, 12.5, 15])
def huang(st, s11, s13, d11p, sd11p, d11b, sd11b, d13p, sd13p, d13b, sd13b):
    return [sim('Sim *1/*1 50 mg', BLK, st, s11),
            dat('*1/*1 placebo 50 mg±SD (n=6)', BLK, 's', hu_t, d11p, sd11p),
            dat('*1/*1 breviscapine 50 mg±SD (n=6)', BLK, 'o', hu_t, d11b, sd11b),
            sim('Sim *1/*3 50 mg', RED, st, s13),
            dat('*1/*3 placebo 50 mg±SD (n=5)', RED, 's', hu_t, d13p, sd13p),
            dat('*1/*3 breviscapine 50 mg±SD (n=5)', RED, 'o', hu_t, d13b, sd13b)]
panel((X2[0], R3[0], X2[1], R3[1]), huang(hu_sim_t, hu_los_11, hu_los_13, hu_los_11p, hu_los_11p_sd, hu_los_11b, hu_los_11b_sd,
      hu_los_13p, hu_los_13p_sd, hu_los_13b, hu_los_13b_sd), 'Losartan [nM]', xlim=(-2, 42), ylim=(-390, 1010), lfs=6)
panel((X3[0], R3[0], X3[1], R3[1]),
      [sim('Sim *1/*1 50 mg', BLK, bae_sim_t, bae_los_11), dat('*1/*1 50 mg±SD (n=12)', BLK, sq, bae_t, bae_los_d11, bae_los_d11_sd),
       sim('Sim *3/*3 50 mg', ORA, bae_sim_t, bae_los_33), dat('*3/*3 50 mg±SD (n=1)', ORA, sq, bae_t, bae_los_d33)],
      'Losartan [nM]', xlim=(-1.25, 26), ylim=(-60, 1110))
panel((X4[0], R3[0], X4[1], R3[1]),
      [sim('Sim *1/*1 50 mg', BLK, lee_sim_t, lee_los_11), dat('*1/*1 50 mg±SD (n=5)', BLK, sq, lee_t, lee_los_d11, lee_los_d11_sd),
       sim('Sim *1/*2 50 mg', BLU, lee_sim_t, lee_los_12), dat('*1/*2 50 mg±SD (n=5)', BLU, sq, lee_t, lee_los_d12, lee_los_d12_sd),
       sim('Sim *1/*3 50 mg', RED, lee_sim_t, lee_los_13), dat('*1/*3 50 mg±SD (n=5)', RED, sq, lee_t, lee_los_d13, lee_los_d13_sd)],
      'Losartan [nM]', xlim=(-1.25, 26), ylim=(-120, 1520), lfs=6)

panel((X1[0], R4[0], X1[1], R4[1]),
      [sim('Sim *1/*1 25 mg', BLK, sek_u_sim_t, sek_uratio_11), dat('*1/*1 25 mg±SD (n=4)', BLK, sq, sek_ut, sek_uratio_d11, sek_uratio_sd11),
       sim('Sim *1/*3 25 mg', RED, sek_u_sim_t, sek_uratio_13), dat('*1/*3 25 mg±SD (n=3)', RED, sq, sek_ut, sek_uratio_d13, sek_uratio_sd13)],
      'Losartan/E3174\nurine [-]', xlim=(-0.75, 15.75), ylim=(-0.8, 15.3), xticks=[0, 2.5, 5, 7.5, 10, 12.5, 15])
panel((X2[0], R4[0], X2[1], R4[1]), huang(hu_E_sim_t, hu_E_11, hu_E_13, hu_E_11p, hu_E_11p_sd, hu_E_11b, hu_E_11b_sd,
      hu_E_13p, hu_E_13p_sd, hu_E_13b, hu_E_13b_sd), 'E3174 [nM]', xlim=(-2, 42), ylim=(-360, 1420), lfs=6)
panel((X3[0], R4[0], X3[1], R4[1]),
      [sim('Sim *1/*1 50 mg', BLK, bae_E_sim_t, bae_E_11), dat('*1/*1 50 mg±SD (n=12)', BLK, sq, bae_Et, bae_E_d11, bae_E_d11_sd),
       sim('Sim *3/*3 50 mg', ORA, bae_E_sim_t, bae_E_33), dat('*3/*3 50 mg±SD (n=1)', ORA, sq, bae_Et, bae_E_d33)],
      'E3174 [nM]', xlim=(-1.25, 26), ylim=(-60, 1420))
panel((X4[0], R4[0], X4[1], R4[1]),
      [sim('Sim *1/*1 50 mg', BLK, lee_E_sim_t, lee_E_11), dat('*1/*1 50 mg±SD (n=5)', BLK, sq, lee_Et, lee_E_d11, lee_E_d11_sd),
       sim('Sim *1/*2 50 mg', BLU, lee_E_sim_t, lee_E_12), dat('*1/*2 50 mg±SD (n=5)', BLU, sq, lee_Et, lee_E_d12, lee_E_d12_sd),
       sim('Sim *1/*3 50 mg', RED, lee_E_sim_t, lee_E_13), dat('*1/*3 50 mg±SD (n=5)', RED, sq, lee_Et, lee_E_d13, lee_E_d13_sd)],
      'E3174 [nM]', xlim=(-1.25, 26), ylim=(-30, 560), lfs=6)

# ---------- Rows 5/6/7 ----------
R5 = (852, 985); R6 = (1024, 1152); R7 = (1191, 1319)
Y1 = (52, 240); Y2 = (297, 486); Y3 = (543, 742); Y4 = (797, 995)
panel((Y1[0], R5[0], Y1[1], R5[1]),
      [sim('Sim *1/*1', BLK, ya_sim_t, ya_los_11), dat('*1/*1±SD (n=6)', BLK, sq, ya_t, ya_los_d11, ya_los_d11_sd),
       sim('Sim *2/*2', PUR, ya_sim_t, ya_los_22), dat('*2/*2±SD (n=3)', PUR, sq, ya_t, ya_los_d22, ya_los_d22_sd),
       sim('Sim *3/*3', ORA, ya_sim_t, ya_los_33), dat('*3/*3±SD (n=1)', ORA, sq, ya_t, ya_los_d33)],
      'Losartan [nM]', xlim=(-1.25, 26), ylim=(-200, 1900), yticks=[0, 500, 1000, 1500])
panel((Y2[0], R5[0], Y2[1], R5[1]),
      [sim('Sim *1/*1', BLK, ya_E_sim_t, ya_E_11), dat('*1/*1±SD (n=6)', BLK, sq, ya_Et, ya_E_d11, ya_E_d11_sd),
       sim('Sim *2/*2', PUR, ya_E_sim_t, ya_E_22), dat('*2/*2±SD (n=3)', PUR, sq, ya_Et, ya_E_d22, ya_E_d22_sd),
       sim('Sim *3/*3', ORA, ya_E_sim_t, ya_E_33), dat('*3/*3±SD (n=1)', ORA, sq, ya_Et, ya_E_d33)],
      'E3174 [nM]', xlim=(-1.25, 26), ylim=(-50, 1150))
panel((Y3[0], R5[0], Y3[1], R5[1]),
      [sim('Sim *1/*1 50 mg', BLK, li_sim_t, li_los_11), dat('*1/*1 50 mg±SD (n=6)', BLK, sq, li_t, li_los_d11, li_los_d11_sd),
       sim('Sim *3/*3 50 mg', ORA, li_sim_t, li_los_33), dat('*3/*3 50 mg±SD (n=5)', ORA, sq, li_t, li_los_d33),
       sim('Sim *1/*13 50 mg', GRN, li_sim_t, li_los_113), dat('*1/*13 50 mg±SD (n=4)', GRN, sq, li_t, li_los_d113, li_los_d113_sd)],
      'Losartan [nM]', xlim=(-1.25, 26), ylim=(-40, 720), lfs=6)
panel((Y4[0], R5[0], Y4[1], R5[1]),
      [sim('Sim *1/*1 50 mg', BLK, han_sim_t, han_los_11), dat('*1/*1 50 mg±SD (n=6)', BLK, sq, han_t, han_los_d11, han_los_sd),
       dat('*1/*1_SIL140 50 mg±SD (n=6)', '#777777', sq, han_t, han_los_d11s, han_los_sd),
       sim('Sim *1/*3 50 mg', RED, han_sim_t, han_los_13), dat('*1/*3 50 mg±SD (n=6)', RED, sq, han_t, han_los_d13, han_los_sd),
       dat('*1/*3_SIL140 50 mg±SD (n=6)', '#8b1a1a', 'o', han_t, han_los_d13s, han_los_sd)],
      'Losartan [nM]', xlim=(-1.25, 26), ylim=(-110, 1060), lfs=6)

gen_keys = ['11', '12', '13', '22', '23', '33']
gen_cols = [BLK, BLU, RED, PUR, CYA, ORA]
gen_lab = ['*1/*1±SD (n=6)', '*1/*2±SD (n=3)', '*1/*3±SD (n=5)', '*2/*2±SD (n=3)', '*2/*3±SD (n=4)', '*3/*3±SD (n=1)']
ulos_sims = [ya_ulos_11, ya_ulos_12, ya_ulos_13, ya_ulos_22, ya_ulos_23, ya_ulos_33]
uE_sims = [ya_uE_11, ya_uE_12, ya_uE_13, ya_uE_22, ya_uE_23, ya_uE_33]
r_sims = [ya_r_11, ya_r_12, ya_r_13, ya_r_22, ya_r_23, ya_r_33]

def yasar_urine(box, st, sims, dt, dd, dsd, ylabel, ylim, loc, yt=None):
    ax = panel(box, [sim('', c, st, s) for c, s in zip(gen_cols, sims)], ylabel, xlim=(-1.25, 26), ylim=ylim,
               legend=False, yticks=yt)
    hs = []
    for k, c in zip(gen_keys, gen_cols):
        hs.append(ax.errorbar(dt, dd[k], yerr=dsd[k], color=c, marker='s', mfc=c, mec='black', ls='-.',
                              lw=1.2, ms=6, elinewidth=1.2))
    ax.legend(hs, gen_lab, fontsize=7, loc=loc, frameon=True, handlelength=1.8)
    return ax

yasar_urine((Y1[0], R6[0], Y1[1], R6[1]), ya_u_sim_t, ulos_sims, ya_ut, ya_ulos_d, ya_ulos_sd,
            'Losartan urine [µmole]', (-0.4, 10.1), 'upper right')
yasar_urine((Y2[0], R6[0], Y2[1], R6[1]), ya_u_sim_t, uE_sims, ya_ut, ya_uE_d, ya_uE_sd,
            'E3174 urine [µmole]', (-0.6, 12.5), 'upper right')
panel((Y3[0], R6[0], Y3[1], R6[1]),
      [sim('Sim *1/*1 50 mg', BLK, li_E_sim_t, li_E_11), dat('*1/*1 50 mg±SD (n=6)', BLK, sq, li_Et, li_E_d11, li_E_d11_sd),
       sim('Sim *3/*3 50 mg', ORA, li_E_sim_t, li_E_33), dat('*3/*3 50 mg±SD (n=5)', ORA, sq, li_Et, li_E_d33),
       sim('Sim *1/*13 50 mg', GRN, li_E_sim_t, li_E_113), dat('*1/*13 50 mg±SD (n=4)', GRN, sq, li_Et, li_E_d113, li_E_d113_sd)],
      'E3174 [nM]', xlim=(-1.25, 26), ylim=(-50, 1050), lfs=6)
panel((Y4[0], R6[0], Y4[1], R6[1]),
      [sim('Sim *1/*1 50 mg', BLK, han_E_sim_t, han_E_11), dat('*1/*1 50 mg±SD (n=6)', BLK, sq, han_t, han_E_d11, han_E_sd),
       dat('*1/*1_SIL140 50 mg±SD (n=6)', '#777777', sq, han_t, han_E_d11s, han_E_sd),
       sim('Sim *1/*3 50 mg', RED, han_E_sim_t, han_E_13), dat('*1/*3 50 mg±SD (n=6)', RED, sq, han_t, han_E_d13, han_E_sd),
       dat('*1/*3_SIL140 50 mg±SD (n=6)', '#8b1a1a', 'o', han_t, han_E_d13s, han_E_sd)],
      'E3174 [nM]', xlim=(-1.25, 26), ylim=(-60, 1060), lfs=6)

yasar_urine((Y1[0], R7[0], Y1[1], R7[1]), ya_r_sim_t, r_sims, ya_rt, ya_r_d, ya_r_sd,
            'Losartan/E3174\nurine [-]', (-0.95, 1.6), 'lower left', yt=[-0.5, 0, 0.5, 1.0, 1.5])
panel((312, 1197, 486, R7[1]),
      [sim('', BLK, ys_sim_t, ys_11, 2), sim('', BLU, ys_sim_t, ys_12, 2), sim('', RED, ys_sim_t, ys_13, 2), sim('', ORA, ys_sim_t, ys_33, 2)],
      'E3174/Losartan\nurine [-]', xlim=(-1.25, 26), ylim=(-0.03, 1.36), legend=False, lab_fs=14, tick_fs=11)
ax_sp = fig.axes[-1]
hs = [ax_sp.errorbar(ys_t, ys_d11, yerr=ys_sd11, color=BLK, marker='s', mfc=BLK, mec='black', ls='--', lw=1, ms=5),
      ax_sp.errorbar(ys_t, ys_d12, color=BLU, marker='s', mfc=BLU, mec='black', ls='--', lw=1, ms=5),
      ax_sp.errorbar(ys_t, ys_d13, color=RED, marker='s', mfc=RED, mec='black', ls='--', lw=1, ms=5),
      ax_sp.errorbar(ys_t, ys_d33, color=ORA, marker='s', mfc=ORA, mec='black', ls='--', lw=1, ms=5)]
ax_sp.legend(hs, ['*1/*1 25 mg±SD (n=8)', '*1/*2 25 mg±SD (n=2)', '*1/*3 25 mg±SD (n=5)', '*3/*3 25 mg±SD (n=2)'],
             fontsize=5.5, loc='lower right')

def sek_bp(box, s11, s13, d11, sd11, d13, sd13, ylabel, ylim, yt):
    panel(box, [sim('Sim *1/*1 25 mg', BLK, bp_sim_t, s11, 3), dat('*1/*1 25 mg±SD (n=4)', BLK, sq, bp_t, d11, sd11),
                sim('Sim *1/*3 25 mg', RED, bp_sim_t, s13, 3), dat('*1/*3 25 mg±SD (n=3)', RED, sq, bp_t, d13, sd13)],
          ylabel, xlim=(-0.75, 15.75), ylim=ylim, xticks=[0, 2.5, 5, 7.5, 10, 12.5, 15], yticks=yt, lfs=5.5,
          lab_fs=14, tick_fs=11, ms=5)
sek_bp((579, 1194, 745, 1325), sbp_sim_11, sbp_sim_13, sbp_d11, sbp_sd11, sbp_d13, sbp_sd13, 'SBP change\n[mmHg]',
       (-29.5, 11.3), [-25, -20, -15, -10, -5, 0, 5, 10])
sek_bp((795, 1194, 961, 1325), dbp_sim_11, dbp_sim_13, dbp_d11, dbp_sd11, dbp_d13, dbp_sd13, 'DBP change\n[mmHg]',
       (-26, 12.5), [-25, -20, -15, -10, -5, 0, 5, 10])

# ---------- Row 8: Shin2020 ----------
R8 = (1404, 1545)
Z1 = (55, 262); Z2 = (305, 490); Z3 = (555, 760); Z4 = (795, 1000)
def shin(st, gg, gt, tt, dt, dgg, dgt, dtt, sdg, sdt, sdtt):
    return [sim('Sim GG/CC 50 mg', BLK, st, gg), dat('GG/CC 50 mg±SD (n=13)', BLK, 'o', dt, dgg, sdg),
            sim('Sim GT/CT 50 mg', PNK, st, gt), dat('GT/CT 50 mg±SD (n=12)', '#e8908f', 's', dt, dgt, sdt),
            sim('Sim TT/TT 50 mg', RED, st, tt), dat('TT/TT 50 mg±SD (n=13)', '#c0282a', 'o', dt, dtt, sdtt)]
SX = [0, 5, 10, 15, 20]
panel((Z1[0], R8[0], Z1[1], R8[1]), shin(shin_sim_t, shin_los_gg, shin_los_gt, shin_los_tt, shin_t, shin_los_dgg,
      shin_los_dgt, shin_los_dtt, shin_los_dgg_sd, shin_los_dgt_sd, shin_los_dtt_sd),
      'Losartan [nM]', xlim=(-1, 21), ylim=(-260, 1560), xticks=SX, lfs=12.5, ms=8)
panel((Z2[0], R8[0], Z2[1], R8[1]), shin(shin_E_sim_t, shin_E_gg, shin_E_gt, shin_E_tt, shin_Et, shin_E_dgg,
      shin_E_dgt, shin_E_dtt, shin_E_sd, shin_E_sd, shin_E_sd),
      'E3174 [nM]', xlim=(-1, 21), ylim=(-120, 1900), xticks=SX, yticks=[0, 500, 1000, 1500], lfs=12.5, ms=8)
panel((Z3[0], R8[0], Z3[1], R8[1]), shin(shin_E_sim_t, shin_S_gg, shin_S_gt, shin_S_tt, shin_Et, shin_S_dgg,
      shin_S_dgt, shin_S_dtt, shin_S_sd, shin_S_sd, shin_S_sd),
      'Losartan+E3174\n[nM]', xlim=(-1, 21), ylim=(-120, 2350), xticks=SX, lfs=12.5, ms=8)
panel((Z4[0], R8[0], Z4[1], R8[1]), shin(shin_u_sim_t, shin_u_gg, shin_u_gt, shin_u_tt, shin_ut, shin_u_dgg,
      shin_u_dgt, shin_u_dtt, shin_u_sd, shin_u_sd, shin_u_sd),
      'Losartan+E3174\nurine [µmole]', xlim=(-1, 21), ylim=(-0.4, 9.0), xticks=SX, lfs=12.5, ms=8)

fig.savefig('out.png', dpi=100)
